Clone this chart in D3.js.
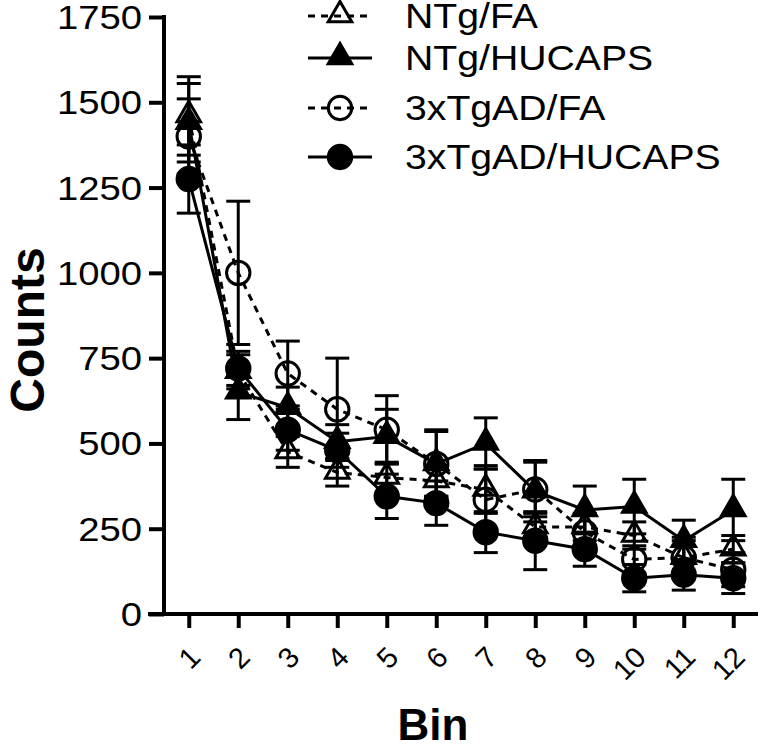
<!DOCTYPE html>
<html><head><meta charset="utf-8">
<script src="https://cdn.jsdelivr.net/npm/d3@7"></script>
<style>body{margin:0;background:#fff}</style>
</head><body>
<svg id="c" width="760" height="749"></svg>
<script>
const bins = [1,2,3,4,5,6,7,8,9,10,11,12];
const yTicks = [0,250,500,750,1000,1250,1500,1750];
const seriesNames = ["NTg/FA","NTg/HUCAPS","3xTgAD/FA","3xTgAD/HUCAPS"];
const ntgFA      = [1460, 710, 475, 415, 400, 390, 365, 255, 255, 230, 165, 190];
const ntgFAErr   = [115, 50, 45, 40, 45, 45, 70, 40, 40, 40, 50, 40];
const ntgHU      = [1440, 650, 605, 505, 520, 440, 500, 360, 305, 315, 215, 305];
const ntgHUErr   = [115, 80, 60, 50, 80, 95, 75, 90, 70, 80, 60, 90];
const tgFA       = [1400, 1000, 705, 600, 540, 440, 335, 365, 240, 160, 165, 130];
const tgFAErr    = [110, 210, 95, 150, 100, 100, 90, 80, 50, 40, 60, 50];
const tgHU       = [1275, 720, 540, 480, 345, 325, 240, 215, 190, 105, 115, 105];
const tgHUErr    = [100, 50, 60, 50, 65, 65, 60, 85, 50, 40, 45, 45];

const series = [
  {name: seriesNames[0], vals: ntgFA, err: ntgFAErr, shape: "tri", filled: false, dashed: true},
  {name: seriesNames[1], vals: ntgHU, err: ntgHUErr, shape: "tri", filled: true, dashed: false},
  {name: seriesNames[2], vals: tgFA, err: tgFAErr, shape: "circ", filled: false, dashed: true},
  {name: seriesNames[3], vals: tgHU, err: tgHUErr, shape: "circ", filled: true, dashed: false}
];

const svg = d3.select("#c");
const x = d3.scaleLinear().domain([0.5, 12.5]).range([164, 758]);
const y = d3.scaleLinear().domain([0, 1750]).range([614, 17]);
const FONT = "Arial, 'Liberation Sans', sans-serif";
const SX = 1.16;   // horizontal stretch of tick text as in the reference
const SXL = 1.12;  // legend text stretch

const triPath = d3.symbol().type(d3.symbolTriangle).size(240);
const circPath = d3.symbol().type(d3.symbolCircle).size(430);

function drawMarker(g, s) {
  g.append("path")
    .attr("d", s.shape === "tri" ? triPath() : circPath())
    .attr("transform", s.shape === "tri" ? "translate(0,-1)" : null)
    .attr("fill", s.filled ? "#000" : "none")
    .attr("stroke", "#000").attr("stroke-width", 3);
}

// error bars
series.forEach(s => {
  const g = svg.append("g");
  bins.forEach((b, i) => {
    const cx = x(b), v = s.vals[i], e = s.err[i];
    g.append("line").attr("x1", cx).attr("x2", cx).attr("y1", y(v - e)).attr("y2", y(v + e))
      .attr("stroke", "#000").attr("stroke-width", 3);
    [v - e, v + e].forEach(t => {
      g.append("line").attr("x1", cx - 12).attr("x2", cx + 12).attr("y1", y(t)).attr("y2", y(t))
        .attr("stroke", "#000").attr("stroke-width", 3);
    });
  });
});

// lines
series.forEach(s => {
  const line = d3.line().x((d, i) => x(bins[i])).y(d => y(d));
  svg.append("path").datum(s.vals).attr("d", line).attr("fill", "none")
    .attr("stroke", "#000").attr("stroke-width", 3)
    .attr("stroke-dasharray", s.dashed ? "7,6" : null);
});

// markers
series.forEach(s => {
  bins.forEach((b, i) => {
    const g = svg.append("g").attr("transform", `translate(${x(b)},${y(s.vals[i])})`);
    drawMarker(g, s);
  });
});

// y axis
const yAxis = d3.axisLeft(y).tickValues(yTicks).tickSize(15).tickPadding(0).tickFormat(d3.format("d"));
const gy = svg.append("g").attr("transform", "translate(164,0)").call(yAxis);
gy.select(".domain").remove();
gy.append("line").attr("x1", 0).attr("x2", 0).attr("y1", y(1750) - 2).attr("y2", y(0)).attr("stroke", "#000").attr("stroke-width", 4);
gy.selectAll(".tick line").attr("stroke", "#000").attr("stroke-width", 4);
gy.selectAll(".tick text").attr("font-family", FONT).attr("font-size", 33).attr("fill", "#000")
  .attr("x", 0).attr("transform", `translate(-22,1) scale(${SX},1)`);

// x axis
const xAxis = d3.axisBottom(x).tickValues(bins).tickSize(14).tickFormat(d3.format("d"));
const gx = svg.append("g").attr("transform", "translate(0,614)").call(xAxis);
gx.select(".domain").remove();
gx.append("line").attr("x1", 148).attr("x2", 758).attr("y1", 0).attr("y2", 0).attr("stroke", "#000").attr("stroke-width", 4);
gx.selectAll(".tick line").attr("stroke", "#000").attr("stroke-width", 4);
gx.selectAll(".tick text").attr("font-family", FONT).attr("font-size", 29).attr("fill", "#000")
  .attr("text-anchor", "end").attr("dy", null).attr("y", 0)
  .attr("transform", "translate(13,45) rotate(-45)");

// axis titles
svg.append("text").attr("transform", "translate(44,330) rotate(-90)").attr("text-anchor", "middle")
  .attr("font-family", FONT).attr("font-weight", "bold").attr("font-size", 48).text("Counts");
svg.append("text").attr("x", 433).attr("y", 740).attr("text-anchor", "middle")
  .attr("font-family", FONT).attr("font-weight", "bold").attr("font-size", 44).text("Bin");

// legend
const legY = [16, 58, 108, 157];
series.forEach((s, i) => {
  const g = svg.append("g").attr("transform", `translate(0,${legY[i]})`);
  g.append("line").attr("x1", 308).attr("x2", 372).attr("y1", 0).attr("y2", 0)
    .attr("stroke", "#000").attr("stroke-width", 3).attr("stroke-dasharray", s.dashed ? "7,6" : null);
  const m = g.append("g").attr("transform", "translate(340,0)");
  drawMarker(m, s);
  g.append("text").attr("transform", `translate(405,12) scale(${SXL},1)`)
    .attr("font-family", FONT).attr("font-size", 35).text(s.name);
});
</script>
</body></html>
